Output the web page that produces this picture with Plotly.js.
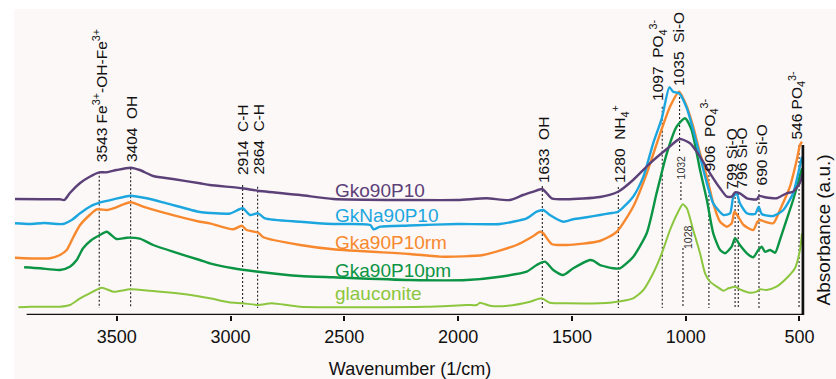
<!DOCTYPE html>
<html><head><meta charset="utf-8">
<script src="https://cdn.plot.ly/plotly-3.0.1.min.js"></script>
<style>
html,body{margin:0;padding:0;background:#ffffff;width:836px;height:379px;overflow:hidden}
#chart{position:absolute;left:14px;top:9px;width:822px;height:370px}
</style></head><body><div id="chart"></div>
<script>
// ---- spectra (wavenumber in 1/cm, absorbance in a.u., stacked) ----
const wnGko = [3947,3821,3750,3730,3706,3661,3619,3576,3544,3501,3439,3399,3340,3253,3135,3091,2947,2881,2694,2549,2213,2002,1875,1773,1715,1669,1630,1589,1523,1377,1297,1231,1157,1083,1026,981,937,893,849,819,798,783,762,731,688,677,652,601,557,528,499,486];
const absGko = [1.16,1.157,1.157,1.15,1.22,1.32,1.383,1.427,1.427,1.45,1.473,1.45,1.39,1.36,1.317,1.30,1.267,1.243,1.20,1.16,1.15,1.15,1.167,1.15,1.20,1.233,1.26,1.167,1.157,1.18,1.233,1.35,1.517,1.66,1.76,1.717,1.583,1.417,1.267,1.183,1.183,1.227,1.217,1.167,1.157,1.19,1.177,1.167,1.217,1.233,1.317,1.417];

const wnGkNa = [3947,3881,3821,3737,3698,3661,3619,3576,3515,3439,3368,3281,3135,3091,3002,2947,2915,2879,2849,2694,2549,2386,2372,2343,2213,2000,1816,1699,1655,1626,1597,1538,1494,1435,1377,1333,1297,1231,1186,1143,1105,1072,1055,1029,995,967,937,907,879,834,805,791,776,762,731,695,679,666,615,571,528,499,489];
const absGkNa = [0.917,0.91,0.92,0.91,0.95,1.017,1.083,1.123,1.157,1.193,1.167,1.117,1.03,1.02,1.015,1.067,1.00,1.017,0.967,0.933,0.91,0.90,0.857,0.883,0.895,0.91,0.91,0.967,1.033,1.05,1.00,0.933,0.957,0.977,1.00,1.017,1.033,1.183,1.383,1.717,1.967,2.277,2.233,2.217,2.067,1.85,1.583,1.317,1.117,1.00,1.017,1.183,1.217,1.117,1.017,1.01,1.083,1.01,0.99,1.05,1.217,1.483,1.583];

const wnGkaRm = [3947,3793,3750,3720,3690,3661,3619,3588,3544,3515,3439,3384,3310,3135,3091,2988,2951,2929,2878,2856,2694,2549,2213,2066,1890,1743,1669,1640,1626,1589,1523,1377,1304,1231,1171,1112,1069,1029,995,967,937,907,879,849,819,798,786,769,746,703,685,674,652,615,586,542,512,498,489];
const absGkaRm = [0.573,0.567,0.60,0.65,0.783,0.90,1.00,1.057,1.05,1.067,1.127,1.083,1.033,0.933,0.917,0.857,0.893,0.85,0.823,0.777,0.70,0.657,0.61,0.583,0.60,0.70,0.79,0.833,0.817,0.71,0.70,0.74,0.83,1.083,1.417,1.817,2.083,2.233,2.083,1.883,1.617,1.383,1.117,0.933,0.883,0.917,1.033,0.983,0.90,0.85,0.933,0.95,0.933,0.917,1.05,1.283,1.55,1.70,1.733];

const wnGkaPm = [3907,3837,3750,3706,3676,3648,3611,3574,3544,3501,3456,3399,3340,3253,3135,3091,2988,2878,2694,2549,2213,1962,1816,1699,1655,1618,1582,1538,1494,1421,1406,1377,1319,1289,1231,1171,1128,1083,1040,1003,974,937,907,879,849,827,798,783,762,731,703,681,666,652,629,607,586,557,528,499,489];
const absGkaPm = [0.477,0.467,0.45,0.483,0.55,0.667,0.75,0.80,0.833,0.76,0.773,0.763,0.70,0.633,0.55,0.517,0.467,0.433,0.39,0.377,0.35,0.35,0.383,0.433,0.50,0.533,0.45,0.40,0.467,0.55,0.543,0.50,0.467,0.467,0.58,0.82,1.217,1.617,1.883,1.967,1.85,1.45,1.15,0.817,0.65,0.617,0.683,0.767,0.70,0.617,0.577,0.65,0.683,0.633,0.65,0.623,0.75,0.95,1.15,1.383,1.467];

const wnGlauc = [3932,3881,3750,3706,3661,3619,3566,3515,3442,3354,3208,3091,3007,2947,2878,2819,2694,2142,1962,1918,1904,1860,1790,1684,1633,1597,1523,1333,1231,1186,1143,1105,1069,1033,1013,995,967,937,915,893,863,834,812,783,762,717,688,674,645,601,557,520,498,489];
const absGlauc = [0.077,0.083,0.083,0.10,0.167,0.217,0.273,0.233,0.257,0.243,0.21,0.167,0.127,0.117,0.10,0.117,0.083,0.082,0.10,0.10,0.123,0.093,0.09,0.133,0.167,0.123,0.117,0.123,0.167,0.25,0.417,0.617,0.85,1.033,1.107,1.067,0.85,0.617,0.417,0.333,0.283,0.243,0.267,0.283,0.257,0.223,0.233,0.257,0.25,0.283,0.367,0.467,0.65,0.817];

const seriesNames = ["Gko90P10","GkNa90P10","Gka90P10rm","Gka90P10pm","glauconite"];
const seriesNameY = [1.25,1.00,0.723,0.45,0.22];

// ---- band assignments ----
const peakLabels = ["3543 Fe<sup>3+</sup>-OH-Fe<sup>3+</sup>","3404\u00a0 OH","2914\u00a0 C-H","2864\u00a0 C-H","1633\u00a0 OH","1280\u00a0 NH<sub>4</sub><sup>+</sup>","1097\u00a0 PO<sub>4</sub><sup>3-</sup>","1035\u00a0 Si-O","906\u00a0 PO<sub>4</sub><sup>3-</sup>","799 Si-O","796 Si-O","690 Si-O","546 PO<sub>4</sub><sup>3-</sup>"];
const peakLabelWn = [3575,3437,2947,2879,1627,1289,1122,1034,898,797,757,665,515];
const peakLabelBase = [1.51,1.51,1.38,1.38,1.30,1.30,2.12,2.27,1.42,1.24,1.24,1.28,1.73];
const minorLabels = ["1032","1028"];
const minorLabelWn = [1021,990];
const minorLabelY = [1.475,0.78];
const guideWn = [3577,3439,2947,2881,1630,1296,1103,1027,1021,1012,898,783,769,678,502];
const guideTop = [1.433,1.467,1.30,1.283,1.29,1.28,2.083,2.22,1.33,0.67,1.40,1.22,1.22,1.25,1.70];
const guideBottom = [0.07,0.07,0.07,0.07,0.07,0.07,0.07,1.62,1.13,0.07,0.07,0.07,0.07,0.07,0.07];
const xTicks = [3500,3000,2500,2000,1500,1000,500];

const colors = ["#5c4078","#1ca6df","#f7882e","#0b9444","#8cc63e"];
const widths = [2.4,2.4,2.4,2.4,2.0];
const xs = [wnGko,wnGkNa,wnGkaRm,wnGkaPm,wnGlauc];
const ys = [absGko,absGkNa,absGkaRm,absGkaPm,absGlauc];

const gx = [], gy = [];
guideWn.forEach((w,i)=>{ gx.push(w,w,null); gy.push(guideTop[i],guideBottom[i],null); });

const traces = [{x:gx,y:gy,mode:'lines',line:{color:'#222',width:1.1,dash:'2px,2px'},hoverinfo:'skip',showlegend:false}];
for (let i=4;i>=0;i--) traces.push({x:xs[i],y:ys[i],mode:'lines',name:seriesNames[i],line:{color:colors[i],width:widths[i],shape:'spline',smoothing:0.6},showlegend:false});

const FONT = 'Arial, "Liberation Sans", sans-serif';
const annotations = [];
peakLabels.forEach((t,i)=>annotations.push({x:peakLabelWn[i],y:peakLabelBase[i],xref:'x',yref:'y',text:t,textangle:-90,showarrow:false,xanchor:'center',yanchor:'bottom',font:{family:FONT,size:15.5,color:'#111'}}));
minorLabels.forEach((t,i)=>annotations.push({x:minorLabelWn[i],y:minorLabelY[i],xref:'x',yref:'y',text:t,textangle:-90,showarrow:false,xanchor:'center',yanchor:'middle',font:{family:FONT,size:10.5,color:'#333'}}));
seriesNames.forEach((t,i)=>annotations.push({x:2550,y:seriesNameY[i],xref:'x',yref:'y',text:t,showarrow:false,xanchor:'left',yanchor:'middle',font:{family:FONT,size:19,color:colors[i]}}));
annotations.push({x:1.022,y:0.85,xref:'paper',yref:'y',text:'Absorbance (a.u.)',textangle:-90,showarrow:false,xanchor:'center',yanchor:'middle',font:{family:FONT,size:19,color:'#111'}});

const layout = {
  width:822, height:370,
  margin:{l:0,r:30,t:0,b:64},
  paper_bgcolor:'#fcf8f7', plot_bgcolor:'rgba(0,0,0,0)',
  showlegend:false,
  xaxis:{range:[3951.5,471.4],tickvals:xTicks,ticks:'outside',ticklen:5,tickwidth:2,tickcolor:'#111',showline:false,showgrid:false,zeroline:false,
    tickfont:{family:FONT,size:18,color:'#111'},
    title:{text:'Wavenumber (1/cm)',font:{family:FONT,size:18,color:'#111'},standoff:17}, automargin:false},
  yaxis:{range:[0,3.06],visible:false,fixedrange:true},
  shapes:[
    {type:'line',xref:'x',yref:'y',x0:3896,x1:485,y0:0,y1:0,line:{color:'#111',width:2.3}},
    {type:'line',xref:'x',yref:'y',x0:485,x1:485,y0:0,y1:1.70,line:{color:'#111',width:2.7}}
  ],
  annotations:annotations
};
Plotly.newPlot('chart',traces,layout,{staticPlot:true,displayModeBar:false});
</script></body></html>
